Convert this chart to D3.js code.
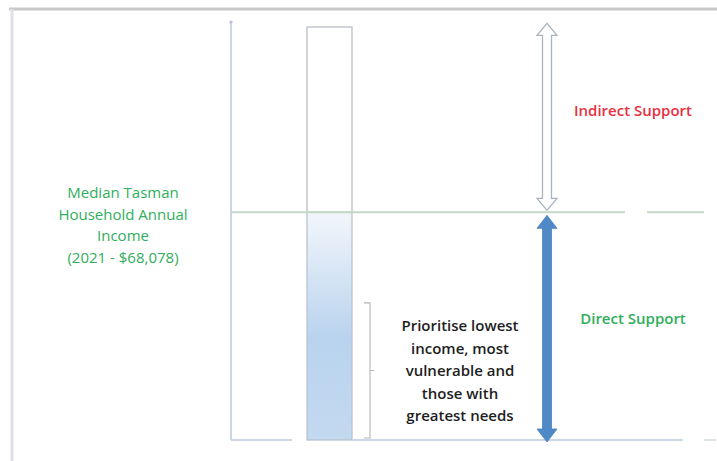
<!DOCTYPE html>
<html>
<head>
<meta charset="utf-8">
<script src="https://cdn.jsdelivr.net/npm/d3@7/dist/d3.min.js"></script>
<style>
  html, body { margin: 0; padding: 0; background: #ffffff; }
  svg { display: block; }
  text { font-family: "Open Sans", "Noto Sans", sans-serif; }
</style>
</head>
<body>
<svg id="chart" width="717" height="461"></svg>
<script>
// ---- data ----
const medianIncome = 68078;
const incomeMax = 125000;
const barTop = [123500];
const indirectRange = [medianIncome, 124600];
const directRange = [0, medianIncome];
const bracketRange = [0, 41000];
const supportLabels = ["Indirect Support", "Direct Support"];
const supportColors = ["#e8303f", "#2fae5c"];
const medianLabel = ["Median Tasman", "Household Annual", "Income", "(2021 - $68,078)"];
const priorityLabel = ["Prioritise lowest", "income, most", "vulnerable and", "those with", "greatest needs"];

// ---- layout ----
const svg = d3.select("#chart");
const y = d3.scaleLinear().domain([0, incomeMax]).range([440, 22]);
const x = d3.scaleOrdinal()
  .domain(["axis", "barL", "barR", "bracket", "arrow", "label", "medianText", "priorityText", "end"])
  .range([231, 307, 352, 370, 547, 633, 123, 460, 704]);

// frame
svg.append("line").attr("x1", 9).attr("x2", 717).attr("y1", 9).attr("y2", 9)
  .attr("stroke", "#c8c8c8").attr("stroke-width", 3);
svg.append("line").attr("x1", 12).attr("x2", 12).attr("y1", 9).attr("y2", 461)
  .attr("stroke", "#e0e0e8").attr("stroke-width", 3);

// vertical axis
svg.append("line").attr("x1", x("axis")).attr("x2", x("axis"))
  .attr("y1", y(incomeMax)).attr("y2", y(0))
  .attr("stroke", "#cdd6e4").attr("stroke-width", 2);
svg.append("circle").attr("cx", x("axis")).attr("cy", y(incomeMax)).attr("r", 1.6).attr("fill", "#b8c2d0");

// bar gradient
const defs = svg.append("defs");
const grad = defs.append("linearGradient").attr("id", "barGrad").attr("x1", 0).attr("x2", 0).attr("y1", 0).attr("y2", 1);
grad.append("stop").attr("offset", "0%").attr("stop-color", "#f2f6fb");
grad.append("stop").attr("offset", "30%").attr("stop-color", "#d3e3f4");
grad.append("stop").attr("offset", "55%").attr("stop-color", "#b9d3ee");
grad.append("stop").attr("offset", "100%").attr("stop-color", "#c3d9f0");

// bar: upper white part and lower gradient part
svg.selectAll("rect.upper").data(barTop).join("rect").attr("class", "upper")
  .attr("x", x("barL")).attr("width", x("barR") - x("barL"))
  .attr("y", d => y(d)).attr("height", d => y(medianIncome) - y(d))
  .attr("fill", "#ffffff").attr("stroke", "#b8bec4").attr("stroke-width", 1.3);
svg.append("rect")
  .attr("x", x("barL")).attr("width", x("barR") - x("barL"))
  .attr("y", y(medianIncome)).attr("height", y(0) - y(medianIncome))
  .attr("fill", "url(#barGrad)").attr("stroke", "#b8c4d0").attr("stroke-width", 1.3);

// bottom baseline
svg.append("line").attr("x1", x("axis")).attr("x2", 292).attr("y1", y(0)).attr("y2", y(0))
  .attr("stroke", "#cdd6e4").attr("stroke-width", 2);
svg.append("line").attr("x1", x("barR")).attr("x2", 683).attr("y1", y(0)).attr("y2", y(0))
  .attr("stroke", "#cdd6e4").attr("stroke-width", 2);
svg.append("line").attr("x1", 704).attr("x2", 716).attr("y1", y(0)).attr("y2", y(0))
  .attr("stroke", "#dde3ea").attr("stroke-width", 2);

// median line
svg.append("line").attr("x1", x("axis")).attr("x2", 625).attr("y1", y(medianIncome)).attr("y2", y(medianIncome))
  .attr("stroke", "#c3d8c8").attr("stroke-width", 2);
svg.append("line").attr("x1", 647).attr("x2", x("end")).attr("y1", y(medianIncome)).attr("y2", y(medianIncome))
  .attr("stroke", "#c3d8c8").attr("stroke-width", 2);

// bracket
const bx = x("bracket");
const bTop = y(bracketRange[1]), bBot = y(bracketRange[0]) - 2, bMid = (bTop + bBot) / 2;
svg.append("path")
  .attr("d", `M${bx - 6},${bTop} L${bx},${bTop} L${bx},${bBot} L${bx - 6},${bBot} M${bx},${bMid} L${bx + 4},${bMid}`)
  .attr("fill", "none").attr("stroke", "#b4b4b4").attr("stroke-width", 1.1);

// double-headed arrow path
function arrowPath(cx, yTop, yBot, shaftW, headW, headL) {
  const s = shaftW / 2, h = headW / 2;
  return `M${cx},${yTop} L${cx + h},${yTop + headL} L${cx + s},${yTop + headL} L${cx + s},${yBot - headL} L${cx + h},${yBot - headL} L${cx},${yBot} L${cx - h},${yBot - headL} L${cx - s},${yBot - headL} L${cx - s},${yTop + headL} L${cx - h},${yTop + headL} Z`;
}
const ax = x("arrow");
svg.append("path")
  .attr("d", arrowPath(ax, y(indirectRange[1]), y(indirectRange[0]) - 2, 9, 20, 12))
  .attr("fill", "#ffffff").attr("stroke", "#a9b4c0").attr("stroke-width", 1.3);
svg.append("path")
  .attr("d", arrowPath(ax, y(directRange[1]) + 3, y(directRange[0]) + 2, 9, 20, 13))
  .attr("fill", "#4f89c7").attr("stroke", "#4a82bd").attr("stroke-width", 0.8);

// support labels
const labelY = [y((indirectRange[0] + indirectRange[1]) / 2) - 7, y(directRange[1]) + 107];
svg.selectAll("text.support").data(supportLabels).join("text").attr("class", "support")
  .attr("x", x("label")).attr("y", (d, i) => labelY[i] + 5)
  .attr("text-anchor", "middle").attr("font-size", 15).attr("font-weight", 600)
  .attr("fill", (d, i) => supportColors[i]).text(d => d);

// median label
svg.selectAll("text.median").data(medianLabel).join("text").attr("class", "median")
  .attr("x", x("medianText")).attr("y", (d, i) => 198 + i * 21.5)
  .attr("text-anchor", "middle").attr("font-size", 15).attr("font-weight", 500)
  .attr("fill", "#2fae5c").text(d => d);

// priority label
svg.selectAll("text.priority").data(priorityLabel).join("text").attr("class", "priority")
  .attr("x", x("priorityText")).attr("y", (d, i) => 331 + i * 22.5)
  .attr("text-anchor", "middle").attr("font-size", 15).attr("font-weight", 600)
  .attr("fill", "#1e1e1e").text(d => d);
</script>
</body>
</html>
